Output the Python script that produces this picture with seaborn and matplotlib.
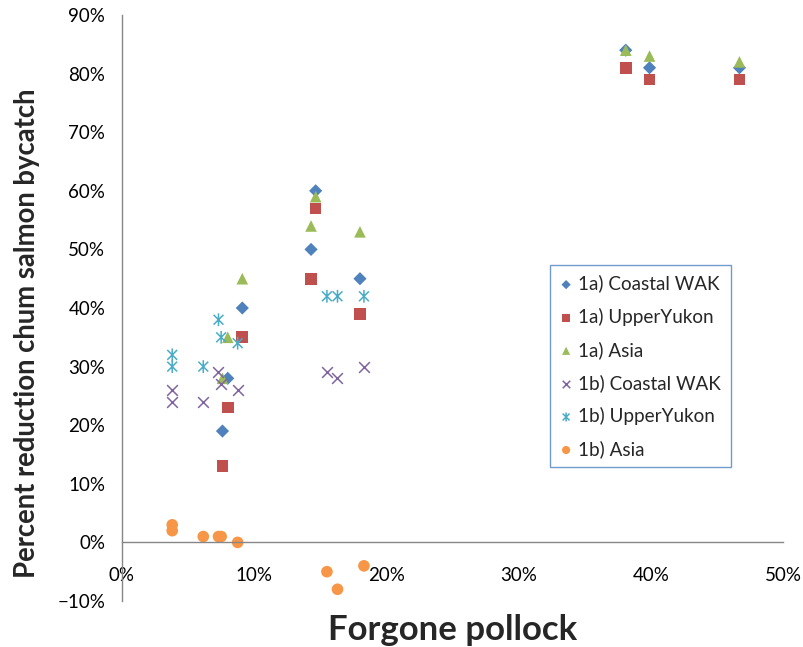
import numpy as np
import matplotlib.pyplot as plt
import seaborn as sns
from matplotlib.path import Path
from matplotlib.ticker import PercentFormatter, MultipleLocator

# forgone pollock (%) for the two option groups
x_1a = [7.6, 8.0, 9.1, 14.3, 14.65, 18.0, 38.1, 39.9, 46.7]
x_1b = [3.8, 3.8, 6.15, 7.3, 7.5, 8.75, 15.5, 16.3, 18.3]

# percent reduction in chum salmon bycatch
coastal_1a = [19, 28, 40, 50, 60, 45, 84, 81, 81]
yukon_1a = [13, 23, 35, 45, 57, 39, 81, 79, 79]
asia_1a = [28, 35, 45, 54, 59, 53, 84, 83, 82]
coastal_1b = [24, 26, 24, 29, 27, 26, 29, 28, 30]
yukon_1b = [30, 32, 30, 38, 35, 34, 42, 42, 42]
asia_1b = [2, 3, 1, 1, 1, 0, -5, -8, -4]

labels = ['1a) Coastal WAK', '1a) UpperYukon', '1a) Asia',
          '1b) Coastal WAK', '1b) UpperYukon', '1b) Asia']

# excel style star: x with a vertical bar
star = Path([(-1, -1), (1, 1), (-1, 1), (1, -1), (0, -1.3), (0, 1.3)],
            [Path.MOVETO, Path.LINETO, Path.MOVETO, Path.LINETO, Path.MOVETO, Path.LINETO])

series = [
    (x_1a, coastal_1a, 'D', '#4F81BD', 45),
    (x_1a, yukon_1a, 's', '#C0504D', 70),
    (x_1a, asia_1a, '^', '#9BBB59', 70),
    (x_1b, coastal_1b, 'x', '#8064A2', 60),
    (x_1b, yukon_1b, star, '#4BACC6', 85),
    (x_1b, asia_1b, 'o', '#F79646', 70),
]

sns.set_style('white')
plt.rcParams['font.family'] = ['Lato', 'DejaVu Sans']

fig = plt.figure(figsize=(8.04, 6.47), dpi=100)
ax = fig.add_axes([0.1517, 0.0711, 0.8223, 0.9057])

for (xs, ys, mk, col, sz), lab in zip(series, labels):
    if mk == 'x':
        sns.scatterplot(x=xs, y=ys, marker=mk, color=col, s=sz, linewidth=1.1, label=lab, ax=ax)
    elif isinstance(mk, Path):
        sns.scatterplot(x=xs, y=ys, marker=mk, facecolor='none', edgecolor=col, s=sz,
                        linewidth=1.1, label=lab, ax=ax)
    else:
        sns.scatterplot(x=xs, y=ys, marker=mk, color=col, s=sz, edgecolor='none', label=lab, ax=ax)

ax.set_xlim(0, 50)
ax.set_ylim(-10, 90)
ax.xaxis.set_major_locator(MultipleLocator(10))
ax.yaxis.set_major_locator(MultipleLocator(10))
ax.xaxis.set_major_formatter(PercentFormatter(100, decimals=0))
ax.yaxis.set_major_formatter(PercentFormatter(100, decimals=0))

ax.spines['top'].set_visible(False)
ax.spines['right'].set_visible(False)
ax.spines['bottom'].set_position(('data', 0))
for s in ('left', 'bottom'):
    ax.spines[s].set_color('#868686')
    ax.spines[s].set_linewidth(1)
ax.tick_params(axis='both', direction='out', length=4, color='#868686', labelsize=13.5, labelcolor='black')
ax.tick_params(axis='x', pad=14)
ax.tick_params(axis='y', pad=8)

ax.set_xlabel('Forgone pollock', fontsize=25, fontweight='bold', labelpad=0)
ax.xaxis.set_label_coords(0.5, -0.022)
ax.set_ylabel('Percent reduction chum salmon bycatch', fontsize=19.8, fontweight='bold')
ax.yaxis.set_label_coords(-0.124, 0.457)

leg = ax.legend(loc='upper left', bbox_to_anchor=(0.6475, 0.573), borderaxespad=0,
                fancybox=False, frameon=True, fontsize=13.6, markerscale=0.7,
                labelspacing=0.8, handletextpad=0.3, handlelength=0.7, borderpad=0.5)
leg.get_frame().set_edgecolor('#4F81BD')
leg.get_frame().set_linewidth(1)

fig.savefig('out.png', dpi=100)
